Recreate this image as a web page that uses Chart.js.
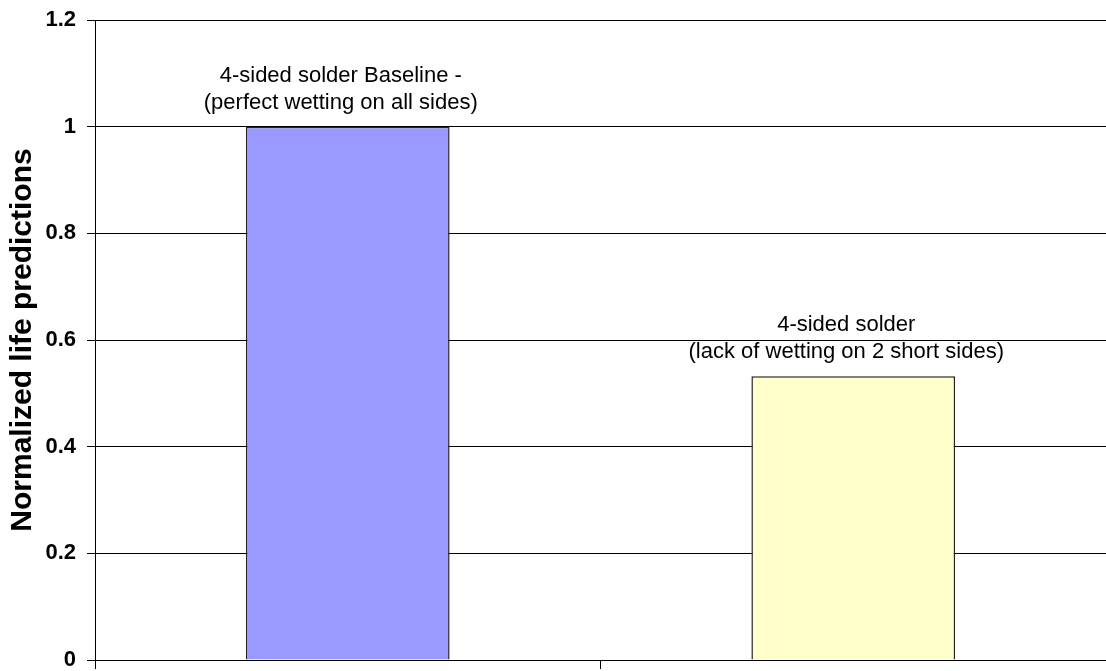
<!DOCTYPE html>
<html>
<head>
<meta charset="utf-8">
<script src="https://cdn.jsdelivr.net/npm/chart.js@4.4.1/dist/chart.umd.min.js"></script>
<style>
  html, body { margin: 0; padding: 0; background: #ffffff; }
  #wrap { width: 1106px; height: 671px; position: relative; }
</style>
</head>
<body>
<div id="wrap"><canvas id="c" width="1106" height="671"></canvas></div>
<script>
const categories = ['4-sided solder Baseline', '4-sided solder (lack of wetting)'];
const lifeValues = [1.0, 0.532];
const barColors = ['#9999FF', '#FFFFCC'];
const annotationLine1 = ['4-sided solder Baseline -', '4-sided solder'];
const annotationLine2 = ['(perfect wetting on all sides)', '(lack of wetting on 2 short sides)'];
const yTickLabels = ['0', '0.2', '0.4', '0.6', '0.8', '1', '1.2'];
const yAxisTitle = 'Normalized life predictions';

const FONT = '"Liberation Sans", Arial, sans-serif';

const annotationPlugin = {
  id: 'barAnnotations',
  afterDatasetsDraw(chart) {
    const ctx = chart.ctx;
    const meta = chart.getDatasetMeta(0);
    ctx.save();
    ctx.font = '22px ' + FONT;
    ctx.fillStyle = '#000';
    ctx.textAlign = 'center';
    ctx.textBaseline = 'middle';
    meta.data.forEach((bar, i) => {
      const cx = bar.x - 7;
      ctx.fillText(annotationLine1[i], cx, bar.y - 51);
      ctx.fillText(annotationLine2[i], cx, bar.y - 24);
    });
    ctx.restore();
  }
};

new Chart(document.getElementById('c'), {
  type: 'bar',
  data: {
    labels: categories,
    datasets: [{
      data: lifeValues,
      backgroundColor: barColors,
      borderColor: '#222222',
      borderWidth: 1.5,
      barPercentage: 0.403,
      categoryPercentage: 1.0
    }]
  },
  options: {
    responsive: false,
    animation: false,
    devicePixelRatio: 1,
    layout: { padding: { top: 20, right: 0, bottom: 0, left: 0 } },
    plugins: {
      legend: { display: false },
      tooltip: { enabled: false }
    },
    scales: {
      x: {
        type: 'category',
        offset: true,
        grid: {
          offset: true,
          drawOnChartArea: false,
          drawTicks: true,
          tickLength: 9,
          color: '#000000'
        },
        border: { display: true, color: '#000000', width: 1 },
        ticks: { display: false },
        afterFit(scale) { scale.height = 11; scale.paddingLeft = 0; scale.paddingRight = 0; }
      },
      y: {
        min: 0,
        max: 1.2,
        ticks: {
          stepSize: 0.2,
          padding: 11,
          color: '#000000',
          font: { family: FONT, size: 22, weight: 'bold' },
          callback: (v, i) => yTickLabels[i]
        },
        grid: {
          color: '#000000',
          tickLength: 8,
          lineWidth: 1
        },
        border: { display: true, color: '#000000', width: 1 },
        title: {
          display: true,
          text: yAxisTitle,
          color: '#000000',
          font: { family: FONT, size: 30, weight: 'bold' },
          padding: { top: 5, bottom: 0 }
        },
        afterFit(scale) { scale.width = 95; scale.paddingTop = 0; scale.paddingBottom = 0; }
      }
    }
  },
  plugins: [annotationPlugin]
});
</script>
</body>
</html>
